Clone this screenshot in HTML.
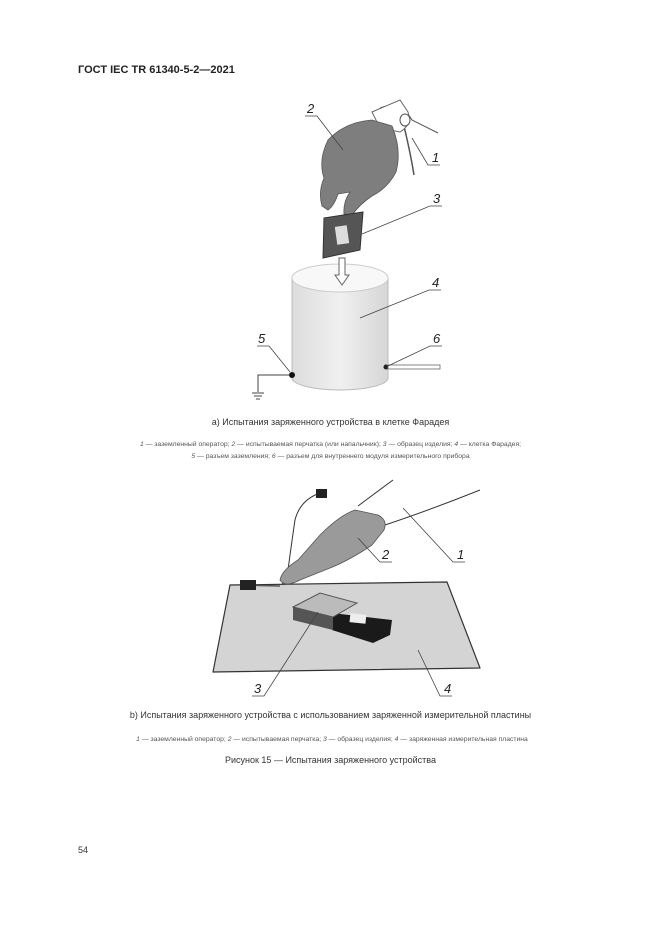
<!DOCTYPE html>
<html><head><meta charset="utf-8"><style>
html,body{margin:0;padding:0;background:#fff;}
svg{display:block;}
text{font-family:"Liberation Sans",Arial,sans-serif;}
</style></head><body>
<svg width="661" height="935" viewBox="0 0 661 935" xmlns="http://www.w3.org/2000/svg">
<defs>
<linearGradient id="cyl" x1="0" x2="1" y1="0" y2="0">
<stop offset="0" stop-color="#dcdcdc"/><stop offset="0.5" stop-color="#f0f0f0"/><stop offset="1" stop-color="#d6d6d6"/>
</linearGradient>
</defs>
<text x="78" y="73" font-size="11" font-weight="bold" fill="#222">ГОСТ IEC TR 61340-5-2—2021</text>

<!-- Figure a -->
<path d="M380 108 Q400 100 412 120 L438 133" stroke="#555" fill="none" stroke-width="1"/>
<path d="M402 118 Q410 150 414 175" stroke="#555" fill="none" stroke-width="1.5"/>
<path d="M372 112 L400 100 L408 112 Q412 125 400 132 L380 128 Z" fill="#fff" stroke="#666" stroke-width="1"/>
<ellipse cx="405" cy="120" rx="5" ry="6" fill="#fff" stroke="#555"/>
<!-- glove -->
<path d="M328 140 Q345 122 372 120 L392 126 Q402 150 396 172 Q388 188 372 196 Q360 204 352 215 L344 214 Q343 202 350 192 L338 194 Q334 206 328 210 L322 206 Q318 192 324 178 Q318 160 328 140 Z" fill="#7e7e7e" stroke="#555" stroke-width="0.8"/>
<!-- chip -->
<polygon points="324,218 363,212 360,250 323,258" fill="#555" stroke="#333"/>
<rect x="336" y="226" width="12" height="18" fill="#ddd" transform="rotate(-8 342 235)"/>
<!-- cylinder -->
<path d="M292 278 L292 378 A48 12 0 0 0 388 378 L388 278 Z" fill="url(#cyl)" stroke="#bbb"/>
<ellipse cx="340" cy="278" rx="48" ry="14" fill="#f8f8f8" stroke="#ccc"/>
<!-- arrow -->
<polygon points="339,258 345,258 345,275 349,275 342,285 335,275 339,275" fill="#fff" stroke="#666"/>
<!-- connectors -->
<circle cx="292" cy="375" r="3" fill="#111"/>
<path d="M289 375 L258 375 L258 392" stroke="#444" fill="none"/>
<path d="M252 393 h12 M254 396 h8 M256 399 h4" stroke="#444"/>
<circle cx="386" cy="367" r="2.5" fill="#222"/>
<rect x="388" y="365" width="52" height="4" fill="#fff" stroke="#666" stroke-width="0.8"/>
<g font-size="13" font-style="italic" fill="#222">
<text x="307" y="113">2</text><path d="M305 116 h12 L343 150" stroke="#444" fill="none" stroke-width="0.8"/>
<text x="432" y="162">1</text><path d="M440 165 h-12 L412 138" stroke="#444" fill="none" stroke-width="0.8"/>
<text x="433" y="203">3</text><path d="M442 206 h-12 L362 234" stroke="#444" fill="none" stroke-width="0.8"/>
<text x="432" y="287">4</text><path d="M441 290 h-12 L360 318" stroke="#444" fill="none" stroke-width="0.8"/>
<text x="258" y="343">5</text><path d="M257 346 h12 L290 372" stroke="#444" fill="none" stroke-width="0.8"/>
<text x="433" y="343">6</text><path d="M442 346 h-12 L388 366" stroke="#444" fill="none" stroke-width="0.8"/>
</g>
<text x="330.5" y="425" font-size="9" text-anchor="middle" fill="#333">a)  Испытания заряженного устройства в клетке Фарадея</text>
<text x="330.5" y="446" font-size="6.8" text-anchor="middle" fill="#555"><tspan font-style="italic">1</tspan> — заземленный оператор; <tspan font-style="italic">2</tspan> — испытываемая перчатка (или напальчник); <tspan font-style="italic">3</tspan> — образец изделия; <tspan font-style="italic">4</tspan> — клетка Фарадея;</text>
<text x="330.5" y="458" font-size="6.8" text-anchor="middle" fill="#555"><tspan font-style="italic">5</tspan> — разъем заземления; <tspan font-style="italic">6</tspan> — разъем для внутреннего модуля измерительного прибора</text>

<!-- Figure b -->
<polygon points="230,585 447,582 480,668 213,672" fill="#d4d4d4" stroke="#333" stroke-width="1.2" stroke-linejoin="round"/>
<path d="M320 493 Q300 500 295 520 Q292 540 288 570 L282 585" stroke="#333" fill="none" stroke-width="1"/>
<rect x="316" y="489" width="11" height="9" fill="#222"/>
<path d="M240 585 L280 586" stroke="#555" stroke-width="1.5"/>
<rect x="240" y="580" width="16" height="10" fill="#222"/>
<path d="M358 506 L393 480" stroke="#333" fill="none"/>
<path d="M385 525 Q430 510 480 490" stroke="#333" fill="none"/>
<path d="M355 510 L378 515 Q388 520 384 530 L372 545 Q350 560 330 568 L300 580 Q285 588 280 580 Q282 570 298 560 L320 535 Q340 515 355 510 Z" fill="#9a9a9a" stroke="#555" stroke-width="0.8"/>
<!-- device -->
<polygon points="332,613 392,620 390,635 373,643 332,630" fill="#1a1a1a"/>
<rect x="350" y="614" width="16" height="9" fill="#eee" transform="rotate(6 358 618)"/>
<polygon points="293,607 320,593 357,603 333,617" fill="#bbb" stroke="#555"/>
<polygon points="293,607 333,617 333,630 293,620" fill="#555"/>
<g font-size="13" font-style="italic" fill="#222">
<text x="382" y="559">2</text><path d="M392 562 h-12 L358 538" stroke="#444" fill="none" stroke-width="0.8"/>
<text x="457" y="559">1</text><path d="M465 562 h-12 L403 508" stroke="#444" fill="none" stroke-width="0.8"/>
<text x="254" y="693">3</text><path d="M252 696 h12 L318 612" stroke="#444" fill="none" stroke-width="0.8"/>
<text x="444" y="693">4</text><path d="M452 696 h-12 L418 650" stroke="#444" fill="none" stroke-width="0.8"/>
</g>
<text x="330.5" y="718" font-size="9" text-anchor="middle" fill="#333">b)  Испытания заряженного устройства с использованием заряженной измерительной пластины</text>
<text x="332" y="741" font-size="6.8" text-anchor="middle" fill="#555"><tspan font-style="italic">1</tspan> — заземленный оператор; <tspan font-style="italic">2</tspan> — испытываемая перчатка; <tspan font-style="italic">3</tspan> — образец изделия; <tspan font-style="italic">4</tspan> — заряженная измерительная пластина</text>
<text x="330.5" y="763" font-size="9" text-anchor="middle" fill="#333">Рисунок 15 — Испытания заряженного устройства</text>

<text x="78" y="853" font-size="9" fill="#333">54</text>
</svg>
</body></html>
